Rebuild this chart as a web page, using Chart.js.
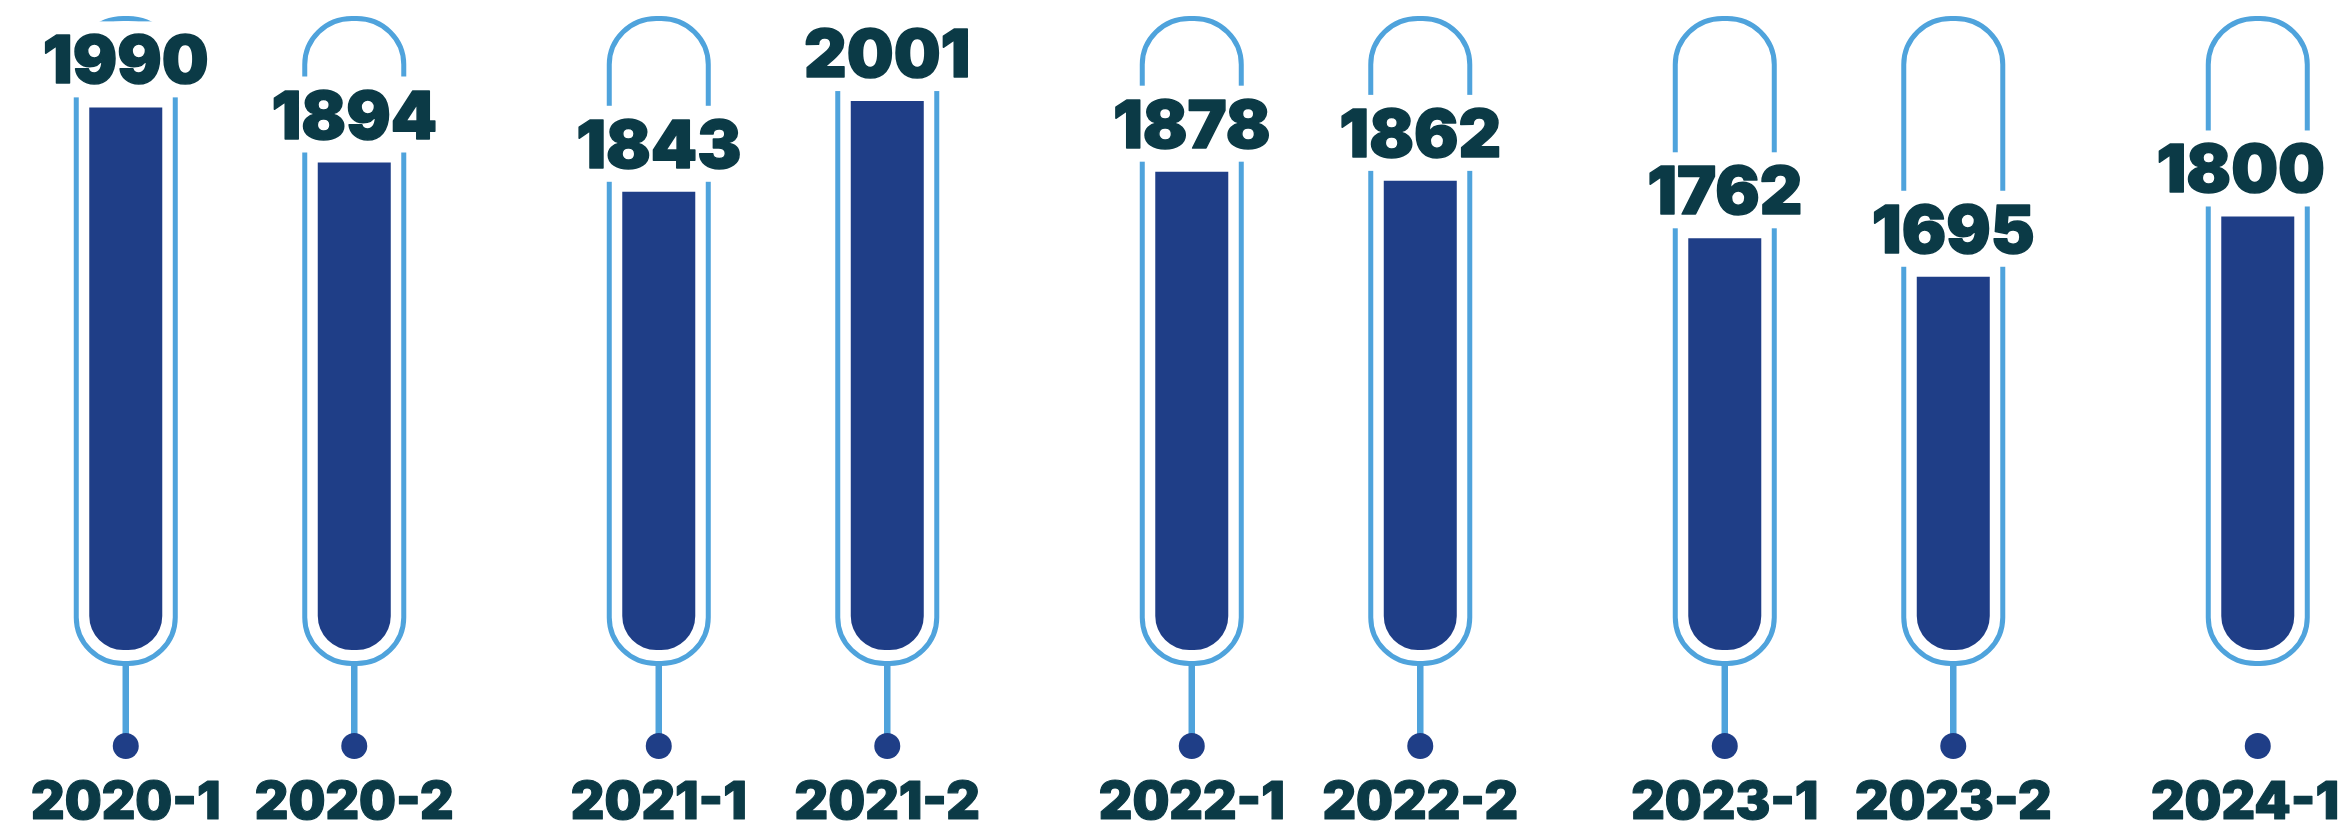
<!DOCTYPE html>
<html><head><meta charset="utf-8">
<script src="https://cdn.jsdelivr.net/npm/chart.js@4.4.1/dist/chart.umd.min.js"></script>
<style>html,body{margin:0;padding:0;background:#fff;overflow:hidden}#wrap{position:relative;width:2341px;height:824px}</style>
</head><body><div id="wrap"><canvas id="c"></canvas></div>
<script>
// ---- data ----
const years = ['2020', '2021', '2022', '2023', '2024'];
const halves = ['1', '2'];
const firstHalf = [1990, 1843, 1878, 1762, 1800];
const secondHalf = [1894, 2001, 1862, 1695, null];

// ---- scale range / style ----
const Y_MIN = 1045, Y_MAX = 2177;
const X_MIN = 2019.5497, X_MAX = 2023.9418;
const BAR = '#1f3e87', TUBE = '#4fa3dc', INK = '#0b3a46';
const VALUE_FONT = '900 66px Inter';
const CAT_FONT = '900 52px Inter';
const noStem = ['2024-1'];

function tube(ctx, cx, top, bottom, hw) {
  const rxT = 47, ryT = 46, rxB = 47, ryB = 46;
  ctx.beginPath();
  ctx.moveTo(cx - hw, bottom - ryB);
  ctx.lineTo(cx - hw, top + ryT);
  ctx.ellipse(cx - hw + rxT, top + ryT, rxT, ryT, 0, Math.PI, 1.5 * Math.PI);
  ctx.lineTo(cx + hw - rxT, top);
  ctx.ellipse(cx + hw - rxT, top + ryT, rxT, ryT, 0, 1.5 * Math.PI, 2 * Math.PI);
  ctx.lineTo(cx + hw, bottom - ryB);
  ctx.ellipse(cx + hw - rxB, bottom - ryB, rxB, ryB, 0, 0, 0.5 * Math.PI);
  ctx.lineTo(cx - hw + rxB, bottom);
  ctx.ellipse(cx - hw + rxB, bottom - ryB, rxB, ryB, 0, 0.5 * Math.PI, Math.PI);
  ctx.stroke();
}

function eachBar(chart, fn) {
  chart.data.datasets.forEach((ds, d) => {
    const meta = chart.getDatasetMeta(d);
    meta.data.forEach((el, i) => {
      if (ds.data[i] === null || ds.data[i] === undefined) return;
      fn(el, ds.data[i], years[i] + '-' + halves[d]);
    });
  });
}

function heavyText(ctx, txt, x, y, w) {
  ctx.lineWidth = w;
  ctx.lineJoin = 'round';
  ctx.strokeStyle = INK;
  ctx.fillStyle = INK;
  ctx.strokeText(txt, x, y);
  ctx.fillText(txt, x, y);
}

const tubes = {
  id: 'tubes',
  beforeDatasetsDraw(chart) {
    const ctx = chart.ctx, area = chart.chartArea;
    ctx.save();
    eachBar(chart, (el, v, label) => {
      const base = el.base;
      const hw = el.width / 2 + 13;
      ctx.strokeStyle = TUBE;
      ctx.lineWidth = 5;
      tube(ctx, el.x, area.top + 18.5, base + 13.5, hw);
      if (!noStem.includes(label)) {
        ctx.lineWidth = 6.5;
        ctx.beginPath();
        ctx.moveTo(el.x, base + 14);
        ctx.lineTo(el.x, base + 92);
        ctx.stroke();
      }
      ctx.fillStyle = BAR;
      ctx.beginPath();
      ctx.arc(el.x, base + 96, 13, 0, 2 * Math.PI);
      ctx.fill();
    });
    ctx.restore();
  },
  afterDatasetsDraw(chart) {
    const ctx = chart.ctx;
    ctx.save();
    ctx.textAlign = 'center';
    ctx.textBaseline = 'alphabetic';
    eachBar(chart, (el, v, label) => {
      ctx.font = VALUE_FONT;
      const txt = String(v);
      const w = ctx.measureText(txt).width;
      const vx = Math.min(el.x, chart.width - w / 2 - 16);
      const by = el.y - 24;
      ctx.fillStyle = '#ffffff';
      ctx.fillRect(vx - w / 2 - 8, by - 49 - 13, w + 16, 49 + 13 + 14);
      heavyText(ctx, txt, vx, by, 1.5);
      ctx.font = CAT_FONT;
      const cw = ctx.measureText(label).width;
      const cx = Math.min(el.x, chart.width - cw / 2 - 2);
      heavyText(ctx, label, cx, el.base + 169, 1.2);
    });
    ctx.restore();
  }
};

function barDataset(label, data) {
  return {
    label, data,
    base: Y_MIN,
    backgroundColor: BAR,
    borderWidth: 0,
    borderSkipped: false,
    borderRadius: { topLeft: 0, topRight: 0, bottomLeft: 34, bottomRight: 34 },
    categoryPercentage: 0.8574,
    barPercentage: 0.3195
  };
}

function build() {
  new Chart(document.getElementById('c'), {
    type: 'bar',
    data: {
      labels: years,
      datasets: [barDataset(halves[0], firstHalf), barDataset(halves[1], secondHalf)]
    },
    options: {
      responsive: true,
      maintainAspectRatio: false,
      animation: false,
      layout: { padding: { left: 0, right: 0, top: 0, bottom: 174 } },
      plugins: { legend: { display: false }, tooltip: { enabled: false } },
      scales: {
        x: {
          type: 'linear', display: false, offset: false,
          min: X_MIN, max: X_MAX,
          afterBuildTicks: s => { s.ticks = years.map(y => ({ value: +y })); }
        },
        y: { display: false, min: Y_MIN, max: Y_MAX }
      }
    },
    plugins: [tubes]
  });
}
if (document.fonts && document.fonts.load) {
  Promise.all([document.fonts.load(VALUE_FONT), document.fonts.load(CAT_FONT)]).then(build, build);
} else build();
</script>
</body></html>
